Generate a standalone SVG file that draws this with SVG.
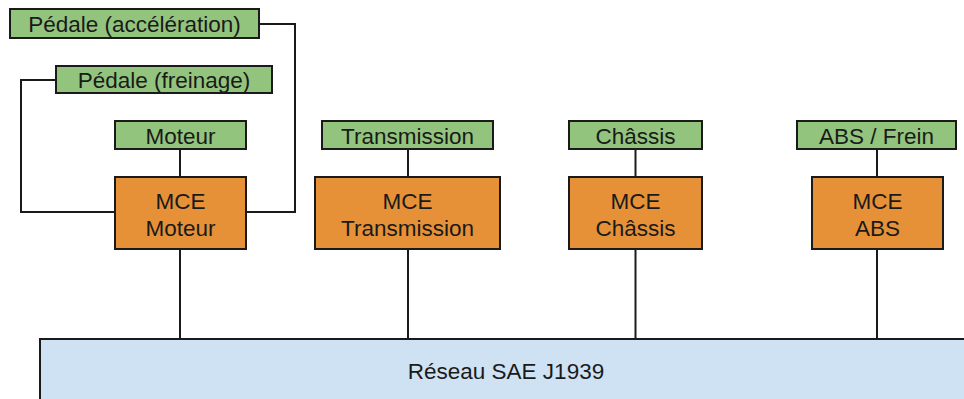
<svg xmlns="http://www.w3.org/2000/svg" width="964" height="399" viewBox="0 0 964 399">
  <style>
    .sensor { fill: #93c47d; stroke: #1a1a1a; stroke-width: 2; }
    .ecu { fill: #e69138; stroke: #1a1a1a; stroke-width: 2; }
    .bus { fill: #cfe2f3; stroke: #1a1a1a; stroke-width: 2; }
    .wire { fill: none; stroke: #1a1a1a; stroke-width: 2; }
    text { font-family: "Liberation Sans", Arial, sans-serif; font-size: 22.5px; fill: #1a1a1a; text-anchor: middle; }
  </style>
  <rect width="964" height="399" fill="#ffffff"/>

  <!-- connectors -->
  <g id="connectors">
    <polyline class="wire" points="259,24 295,24 295,212 246,212"/>
    <polyline class="wire" points="56,80 21,80 21,212 115,212"/>
    <line class="wire" x1="180" y1="149" x2="180" y2="177"/>
    <line class="wire" x1="408" y1="149" x2="408" y2="177"/>
    <line class="wire" x1="635.5" y1="149" x2="635.5" y2="177"/>
    <line class="wire" x1="877" y1="149" x2="877" y2="177"/>
    <line class="wire" x1="180" y1="249" x2="180" y2="339"/>
    <line class="wire" x1="408" y1="249" x2="408" y2="339"/>
    <line class="wire" x1="635.5" y1="249" x2="635.5" y2="339"/>
    <line class="wire" x1="877" y1="249" x2="877" y2="339"/>
  </g>

  <!-- pedals -->
  <g id="pedale-acceleration">
    <rect class="sensor" x="10" y="9" width="249" height="29"/>
    <text x="134.5" y="31.5">Pédale (accélération)</text>
  </g>
  <g id="pedale-freinage">
    <rect class="sensor" x="56" y="66" width="216" height="27"/>
    <text x="164" y="87.5">Pédale (freinage)</text>
  </g>

  <!-- sensors -->
  <g id="capteur-moteur">
    <rect class="sensor" x="115" y="121" width="131" height="28"/>
    <text x="180.5" y="143.5">Moteur</text>
  </g>
  <g id="capteur-transmission">
    <rect class="sensor" x="322" y="121" width="171" height="28"/>
    <text x="407.5" y="143.5">Transmission</text>
  </g>
  <g id="capteur-chassis">
    <rect class="sensor" x="569" y="121" width="133" height="28"/>
    <text x="635.5" y="143.5">Châssis</text>
  </g>
  <g id="capteur-abs">
    <rect class="sensor" x="797" y="121" width="159" height="28"/>
    <text x="876.5" y="143.5">ABS / Frein</text>
  </g>

  <!-- ECUs -->
  <g id="mce-moteur">
    <rect class="ecu" x="115" y="177" width="131" height="72"/>
    <text x="180.5" y="209">MCE</text>
    <text x="180.5" y="236">Moteur</text>
  </g>
  <g id="mce-transmission">
    <rect class="ecu" x="315" y="177" width="185" height="72"/>
    <text x="407.5" y="209">MCE</text>
    <text x="407.5" y="236">Transmission</text>
  </g>
  <g id="mce-chassis">
    <rect class="ecu" x="569" y="177" width="133" height="72"/>
    <text x="635.5" y="209">MCE</text>
    <text x="635.5" y="236">Châssis</text>
  </g>
  <g id="mce-abs">
    <rect class="ecu" x="812" y="177" width="131" height="72"/>
    <text x="877.5" y="209">MCE</text>
    <text x="877.5" y="236">ABS</text>
  </g>

  <!-- network bus -->
  <g id="reseau">
    <rect class="bus" x="40" y="339" width="930" height="70"/>
    <text x="506" y="379">Réseau SAE J1939</text>
  </g>
</svg>
